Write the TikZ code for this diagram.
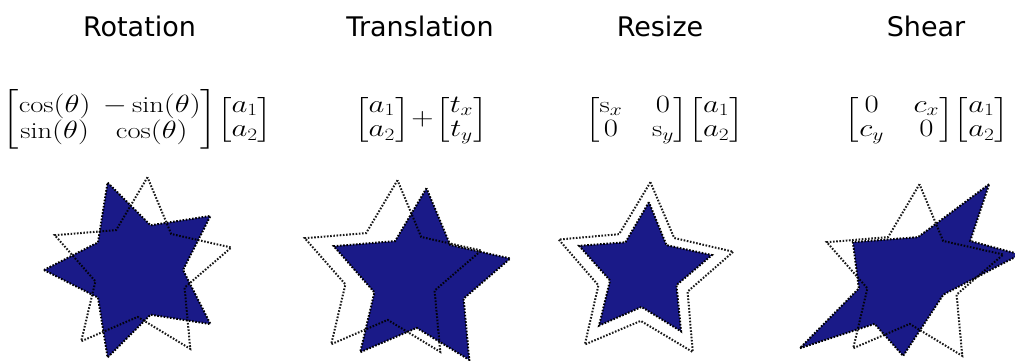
\documentclass[tikz,border=0pt]{standalone}
\usepackage{amsmath}
\usepackage{graphicx}
\usepackage{fontspec}
\newfontfamily\titlefont{DejaVu Sans}
\definecolor{starblue}{RGB}{26,26,136}
\tikzset{
  dotline/.style={draw=black, line width=2pt, dash pattern=on 1.6pt off 1.6pt},
  filledstar/.style={dotline, fill=starblue},
  origstar/.style={dotline, draw opacity=0.9},
  title/.style={anchor=base, font=\titlefont\fontsize{27}{32}\selectfont},
  formula/.style={font=\fontsize{23}{27}\selectfont}
}
\newcommand{\mtx}[2][5pt]{\left[\setlength{\arraycolsep}{#1}\renewcommand{\arraystretch}{0.9}\begin{matrix}#2\end{matrix}\right]}
\newcommand{\wide}[1]{\scalebox{1.24}[1]{#1}}
% #1 style, #2 outer radius, #3 inner radius, #4 angle of first tip
\newcommand{\mystar}[4]{%
  \path[#1] (#4:#2) -- (#4+36:#3) -- (#4+72:#2) -- (#4+108:#3) -- (#4+144:#2)
    -- (#4+180:#3) -- (#4+216:#2) -- (#4+252:#3) -- (#4+288:#2) -- (#4+324:#3) -- cycle;}
\begin{document}
\begin{tikzpicture}[x=1pt,y=1pt]
\useasboundingbox (0,0) rectangle (1015,360);
% titles
\node[title] (t1) at (139.5,324) {Rotation};
\node[title] (t2) at (420,324) {Translation};
\node[title] (t3) at (660,324) {Resize};
\node[title] (t4) at (926,324) {Shear};
% formulas
\node[formula] (f1) at (137.5,240.5) {\wide{$\mtx{\cos(\theta) & -\sin(\theta)\\ \sin(\theta) & \cos(\theta)}\!\mtx{a_1\\ a_2}$}};
\node[formula] (f2) at (421,240.5) {\wide{$\mtx{a_1\\ a_2}\!+\!\mtx{t_x\\ t_y}$}};
\node[formula] (f3) at (664.5,240.5) {\wide{$\mtx[12pt]{\mathrm{s}_x & 0\\ 0 & \mathrm{s}_y}\!\mtx{a_1\\ a_2}$}};
\node[formula] (f4) at (927,240.5) {\wide{$\mtx[12pt]{0 & c_x\\ c_y & 0}\!\mtx{a_1\\ a_2}$}};
% rotation
\begin{scope}[shift={(136,90)}]
\mystar{filledstar}{92}{47}{180}
\end{scope}
\begin{scope}[shift={(141,90)}]
\mystar{origstar}{93}{47}{86}
\end{scope}
% translation
\begin{scope}[shift={(420,79)}]
\mystar{filledstar}{93}{47}{86}
\end{scope}
\begin{scope}[shift={(391,87)}]
\mystar{origstar}{93}{47}{86}
\end{scope}
% resize
\begin{scope}[shift={(644,86)}]
\mystar{origstar}{92}{47}{86}
\end{scope}
\begin{scope}[shift={(644,88)}]
\mystar{filledstar}{70}{35}{86}
\end{scope}
% shear
\begin{scope}[shift={(913,83)}, xslant=0.75]
\mystar{filledstar}{93}{47}{86}
\end{scope}
\begin{scope}[shift={(913,83)}]
\mystar{origstar}{93}{47}{86}
\end{scope}
\end{tikzpicture}
\end{document}
